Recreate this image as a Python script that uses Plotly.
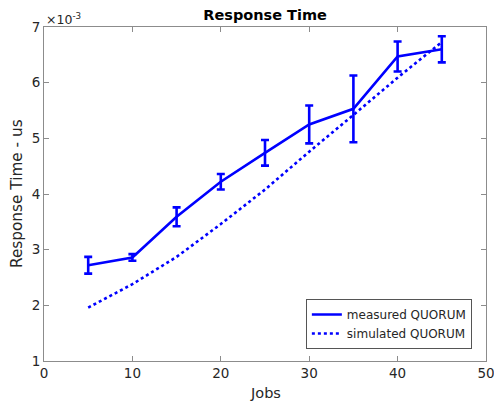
import plotly.graph_objects as go

jobs = [5, 10, 15, 20, 25, 30, 35, 40, 45]
measured = [2.72e-3, 2.86e-3, 3.59e-3, 4.22e-3, 4.74e-3, 5.25e-3, 5.53e-3, 6.47e-3, 6.60e-3]
measured_err = [0.15e-3, 0.06e-3, 0.17e-3, 0.14e-3, 0.23e-3, 0.34e-3, 0.60e-3, 0.27e-3, 0.235e-3]
simulated = [1.96e-3, 2.38e-3, 2.87e-3, 3.46e-3, 4.08e-3, 4.76e-3, 5.42e-3, 6.09e-3, 6.73e-3]
y_ticks = [1e-3, 2e-3, 3e-3, 4e-3, 5e-3, 6e-3, 7e-3]
y_ticktext = ["1", "2", "3", "4", "5", "6", "7"]
x_ticks = [0, 10, 20, 30, 40, 50]

BLUE = "#0000ff"
TXT = "#262626"
AX = "#8c8c8c"
FONT = "DejaVu Sans"

fig = go.Figure()
fig.add_trace(go.Scatter(
    x=jobs, y=measured, mode="lines", name="measured QUORUM",
    line=dict(color=BLUE, width=2.6),
    error_y=dict(type="data", array=measured_err, visible=True,
                 color=BLUE, thickness=2.6, width=4),
))
fig.add_trace(go.Scatter(
    x=jobs, y=simulated, mode="lines", name="simulated QUORUM",
    line=dict(color=BLUE, width=2.6, dash="dot"),
))

fig.update_layout(
    width=494, height=403,
    margin=dict(l=44, r=8, t=27, b=42, autoexpand=False),
    paper_bgcolor="white", plot_bgcolor="white",
    font=dict(family=FONT, color=TXT, size=13),
    title=dict(text="<b>Response Time</b>", x=0.5366, xanchor="center",
               y=0.962, yanchor="middle", font=dict(size=14.5, color="black", family=FONT)),
    showlegend=True,
    legend=dict(x=0.968, y=0.036, xanchor="right", yanchor="bottom",
                bgcolor="white", bordercolor="#555555", borderwidth=1,
                font=dict(size=12, color=TXT, family=FONT),
                itemwidth=30, tracegroupgap=0),
)
fig.update_xaxes(
    range=[0, 50], tickvals=x_ticks, showgrid=False, zeroline=False,
    showline=True, linecolor=AX, linewidth=1, mirror="ticks",
    ticks="inside", ticklen=5, tickcolor=AX, automargin=False,
    ticklabeloverflow="allow",
    tickfont=dict(size=13.5, color=TXT),
)
fig.update_yaxes(
    range=[1e-3, 7e-3], tickvals=y_ticks, ticktext=y_ticktext,
    showgrid=False, zeroline=False, automargin=False,
    showline=True, linecolor=AX, linewidth=1, mirror="ticks",
    ticks="inside", ticklen=5, tickcolor=AX,
    tickfont=dict(size=13.5, color=TXT),
)
fig.add_annotation(
    x=0, y=1, xref="paper", yref="paper", xanchor="left", yanchor="bottom",
    text="\u00d710<sup>-3</sup>", showarrow=False,
    font=dict(size=12.5, color=TXT, family=FONT), yshift=-2,
)
fig.add_annotation(
    x=0.5, y=-0.095, xref="paper", yref="paper", xanchor="center", yanchor="middle",
    text="Jobs", showarrow=False, font=dict(size=14.5, color=TXT, family=FONT),
)
fig.add_annotation(
    x=-0.061, y=0.5, xref="paper", yref="paper", xanchor="center", yanchor="middle",
    text="Response Time - us", showarrow=False, textangle=-90,
    font=dict(size=15.3, color=TXT, family=FONT),
)

fig.write_html("out.html", config={"displayModeBar": False},
               post_script="document.body.style.margin='0';document.body.style.padding='0';")
